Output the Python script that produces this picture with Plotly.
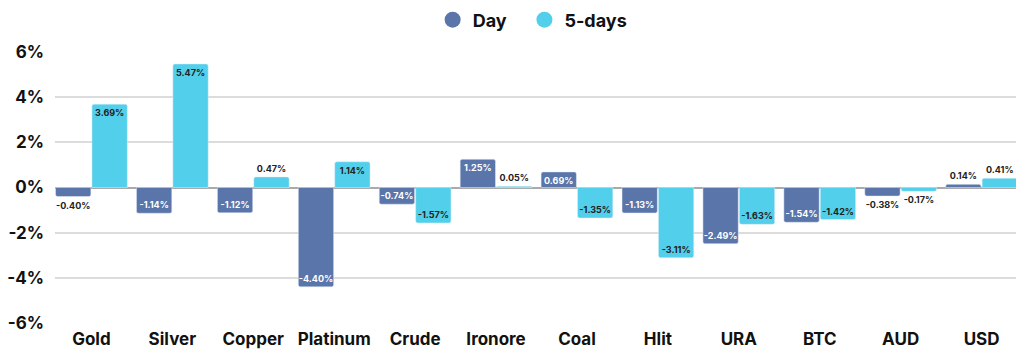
import plotly.graph_objects as go

categories = ["Gold", "Silver", "Copper", "Platinum", "Crude", "Ironore", "Coal", "Hlit", "URA", "BTC", "AUD", "USD"]
day = [-0.40, -1.14, -1.12, -4.40, -0.74, 1.25, 0.69, -1.13, -2.49, -1.54, -0.38, 0.14]
five_days = [3.69, 5.47, 0.47, 1.14, -1.57, 0.05, -1.35, -3.11, -1.63, -1.42, -0.17, 0.41]
y_ticks = [-6, -4, -2, 0, 2, 4, 6]
y_tick_labels = ["-6%", "-4%", "-2%", "0%", "2%", "4%", "6%"]

DAY_COLOR = "#5a75aa"
FIVE_COLOR = "#52cfea"
FONT = "Inter"

def labels(vals):
    return [f"{v:.2f}%" for v in vals]

def positions(vals):
    return ["inside" if abs(v) >= 0.6 else "outside" for v in vals]

fig = go.Figure()
fig.add_trace(go.Bar(
    x=categories, y=day, name="Day", marker=dict(color=DAY_COLOR, cornerradius=2),
    text=labels(day), textposition=positions(day), textangle=0,
    insidetextfont=dict(color="white", size=9, family=FONT, weight=700),
    outsidetextfont=dict(color="#222", size=9, family=FONT, weight=700),
    insidetextanchor="end", constraintext="none", cliponaxis=False, showlegend=False,
))
fig.add_trace(go.Bar(
    x=categories, y=five_days, name="5-days", marker=dict(color=FIVE_COLOR, cornerradius=2),
    text=labels(five_days), textposition=positions(five_days), textangle=0,
    insidetextfont=dict(color="#222", size=9, family=FONT, weight=700),
    outsidetextfont=dict(color="#222", size=9, family=FONT, weight=700),
    insidetextanchor="end", constraintext="none", cliponaxis=False, showlegend=False,
))
# legend entries with circle symbols
fig.add_trace(go.Scatter(x=[None], y=[None], mode="markers", name="Day\u00a0\u00a0\u00a0",
                         marker=dict(color=DAY_COLOR, size=16, symbol="circle")))
fig.add_trace(go.Scatter(x=[None], y=[None], mode="markers", name="5-days",
                         marker=dict(color=FIVE_COLOR, size=16, symbol="circle")))

# page body has an 8px default margin, so the figure is sized to fit the window
fig.update_layout(
    width=1016, height=349,
    margin=dict(l=47, r=6, t=44, b=34, autoexpand=False),
    plot_bgcolor="white", paper_bgcolor="white",
    barmode="group", bargap=0.1, bargroupgap=0.03,
    font=dict(family=FONT, color="#111"),
    legend=dict(orientation="h", x=0.496, xanchor="center", y=1 - 12 / 349, yanchor="middle",
                yref="container", font=dict(size=18, family=FONT, weight=700),
                itemwidth=30, traceorder="normal"),
)
fig.update_xaxes(range=[-0.45, 11.45], showgrid=False, tickfont=dict(size=17, family=FONT, weight=700),
                 ticks="", ticklabelstandoff=4, automargin=False)
fig.update_yaxes(range=[-6, 6], tickvals=y_ticks, ticktext=y_tick_labels,
                 showgrid=True, gridcolor="#dcdcdc", gridwidth=1.5,
                 zeroline=True, zerolinecolor="#aaaaaa", zerolinewidth=1.5,
                 tickfont=dict(size=17, family=FONT, weight=700), ticklabelstandoff=10, automargin=False)

fig.write_html("out.html")
